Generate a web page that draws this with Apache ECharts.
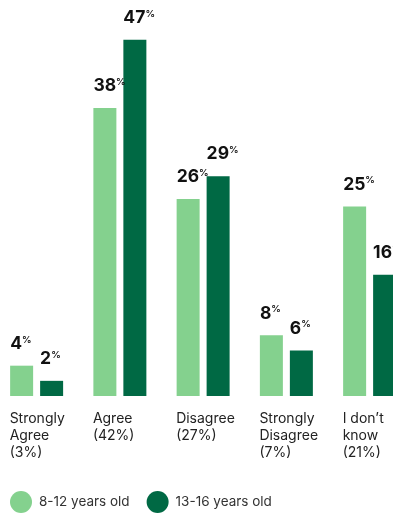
<!DOCTYPE html>
<html>
<head>
<meta charset="utf-8">
<script src="https://cdn.jsdelivr.net/npm/echarts@6/dist/echarts.min.js"></script>
<style>
  html, body { margin: 0; padding: 0; background: #fff; overflow: hidden; width: 393px; height: 513px; }
  #chart { position: absolute; left: -5px; top: 0; width: 430px; height: 513px; }
</style>
</head>
<body>
<div id="chart"></div>
<script>
// Survey answers by age group
const categories = ['Strongly\nAgree\n(3%)', 'Agree\n(42%)', 'Disagree\n(27%)', 'Strongly\nDisagree\n(7%)', 'I don\u2019t\nknow\n(21%)'];
const seriesNames = ['8-12 years old', '13-16 years old'];
const kids = [4, 38, 26, 8, 25];
const teens = [2, 47, 29, 6, 16];

const FONT = 'Inter, "Noto Sans", sans-serif';
const LIGHT = '#84d18e';
const DARK = '#006944';

function valueLabel() {
  return {
    show: true,
    position: 'top',
    distance: 13,
    align: 'left',
    offset: [-11.5, 0],
    formatter: p => '{n|' + p.value + '}{p|%}',
    rich: {
      n: { fontFamily: FONT, fontSize: 17.5, fontWeight: 'bold', color: '#111', letterSpacing: -0.5 },
      p: { fontFamily: FONT, fontSize: 9.5, fontWeight: 600, color: '#111', verticalAlign: 'top', padding: [0, 0, 8, 0] }
    }
  };
}

const chart = echarts.init(document.getElementById('chart'), null, { renderer: 'canvas' });
chart.setOption({
  animation: false,
  backgroundColor: '#fff',
  grid: { left: 0, width: 416.25, top: 17, bottom: 117, containLabel: false },
  legend: {
    left: 15,
    top: 491,
    padding: 0,
    icon: 'circle',
    itemWidth: 22,
    itemHeight: 22,
    itemGap: 17,
    textStyle: { fontFamily: FONT, fontSize: 13.5, color: '#333', padding: [0, 0, 0, 2] },
    data: seriesNames
  },
  xAxis: {
    type: 'category',
    data: categories,
    axisLine: { show: false },
    axisTick: { show: false },
    axisLabel: {
      interval: 0,
      margin: 14,
      align: 'center',
      verticalAlign: 'top',
      formatter: v => v.split('\n').map(s => '{a|' + s + '}').join('\n'),
      rich: {
        a: { width: 54, align: 'left', fontFamily: FONT, fontSize: 14, lineHeight: 17, color: '#222' }
      }
    }
  },
  yAxis: {
    type: 'value',
    min: 0,
    max: 50,
    show: false,
    splitLine: { show: false }
  },
  series: [
    {
      name: seriesNames[0],
      type: 'bar',
      data: kids,
      barWidth: 23,
      barGap: '30.4%',
      itemStyle: { color: LIGHT },
      label: valueLabel()
    },
    {
      name: seriesNames[1],
      type: 'bar',
      data: teens,
      barWidth: 23,
      itemStyle: { color: DARK },
      label: valueLabel()
    }
  ]
});
</script>
</body>
</html>
